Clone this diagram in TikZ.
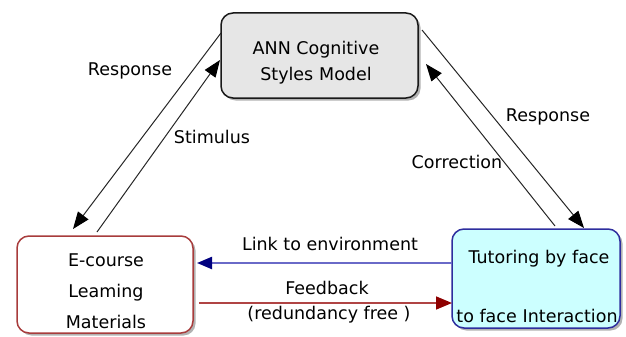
\documentclass[tikz,border=0pt]{standalone}
\usepackage{fontspec}
\setmainfont{DejaVu Sans}
\usetikzlibrary{arrows.meta,shadows}
\definecolor{topfill}{HTML}{E6E6E6}
\definecolor{redborder}{HTML}{A83C3C}
\definecolor{cyanfill}{HTML}{CCFFFF}
\definecolor{blueborder}{HTML}{2E2E9E}
\definecolor{blueline}{HTML}{6A6AC8}
\definecolor{bluetip}{HTML}{00007F}
\definecolor{redline}{HTML}{B04444}
\definecolor{redtip}{HTML}{8E0000}
\tikzset{
  boxbase/.style={rounded corners=12pt, line width=1.5pt,
    drop shadow={shadow xshift=2.5pt, shadow yshift=-2.5pt, fill=black!60}},
  topbox/.style={boxbase, draw=black!90, fill=topfill, minimum width=197pt, minimum height=85pt},
  leftbox/.style={boxbase, draw=redborder, fill=white, minimum width=176pt, minimum height=97pt},
  rightbox/.style={boxbase, draw=blueborder, fill=cyanfill, minimum width=168pt, minimum height=99pt},
  txt/.style={font=\fontsize{17.5}{21}\selectfont, inner sep=0pt, text=black},
  diag/.style={line width=1pt, draw=black!85},
  bigtip/.style={-{Triangle[length=17pt,width=13pt,color=black]}},
}
\begin{document}
\begin{tikzpicture}[x=1pt,y=-1pt]
\useasboundingbox (0,0) rectangle (626,337);
% boxes
\node[topbox] (ann) at (319.5,55.5) {};
\node[leftbox] (ecourse) at (105,284.5) {};
\node[rightbox] (tutor) at (536,278.5) {};
% box texts
\node[txt, align=center] (anntext) at (316,63) {ANN Cognitive\\[5pt]Styles\,\,Model};
\node[txt, align=center] (ectext) at (106,291.5) {E-course\\[10pt]Leaming\\[10pt]Materials};
\node[txt] (tutor1) at (539,259) {Tutoring by face};
\node[txt] (tutor2) at (537,316) {to face\,\,Interaction};
% diagonal connector endpoints
\coordinate (annL1) at (221,33);
\coordinate (annL2) at (220,60);
\coordinate (ecT1) at (73,229);
\coordinate (ecT2) at (97,232);
\coordinate (annR1) at (422,30);
\coordinate (annR2) at (426,64);
\coordinate (tuT1) at (584,228);
\coordinate (tuT2) at (555,226);
\draw[diag, bigtip] (annL1) -- (ecT1);
\draw[diag, bigtip] (ecT2) -- (annL2);
\draw[diag, bigtip] (annR1) -- (tuT1);
\draw[diag, bigtip] (tuT2) -- (annR2);
% horizontal connectors
\coordinate (tuL1) at (452,263);
\coordinate (ecR1) at (197,263);
\coordinate (ecR2) at (199,303);
\coordinate (tuL2) at (452,303);
\draw[line width=2.2pt, draw=blueline, -{Triangle[length=15pt,width=12pt,color=bluetip,fill=bluetip]}] (tuL1) -- (ecR1);
\draw[line width=1.6pt, draw=redline, -{Triangle[length=16pt,width=13pt,color=redtip,fill=redtip]}] (ecR2) -- (tuL2);
% labels
\node[txt] (lresp) at (130,71) {Response};
\node[txt] (lstim) at (212,137) {Stimulus};
\node[txt] (rresp) at (548,117) {Response};
\node[txt] (rcorr) at (457,162) {Correction};
\node[txt] (link) at (330,244) {Link to environment};
\node[txt] (feed) at (327,288) {Feedback};
\node[txt] (redund) at (329,315) {(redundancy free )};
\end{tikzpicture}
\end{document}
